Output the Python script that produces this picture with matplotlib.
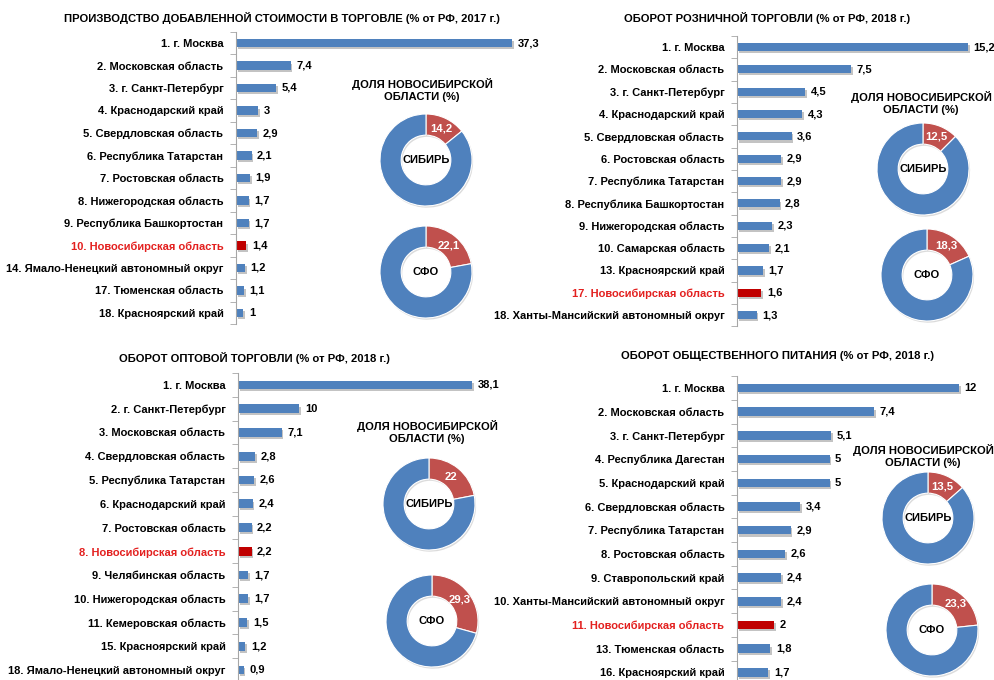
import numpy as np
import matplotlib
matplotlib.use("Agg")
import matplotlib.pyplot as plt
import matplotlib.patheffects as pe

plt.rcParams['font.family'] = ['Liberation Sans', 'DejaVu Sans']
plt.rcParams['font.weight'] = 'bold'

BLUE = "#4F81BD"
RED_WEDGE = "#C0504D"
RED_BAR = "#C00000"
RED_TEXT = "#E3201F"

# --- data ---
titles = [
    "ПРОИЗВОДСТВО ДОБАВЛЕННОЙ СТОИМОСТИ В ТОРГОВЛЕ (% от РФ, 2017 г.)",
    "ОБОРОТ РОЗНИЧНОЙ ТОРГОВЛИ (% от РФ, 2018 г.)",
    "ОБОРОТ ОПТОВОЙ ТОРГОВЛИ (% от РФ, 2018 г.)",
    "ОБОРОТ ОБЩЕСТВЕННОГО ПИТАНИЯ (% от РФ, 2018 г.)",
]

labels_vds = ["1. г. Москва", "2. Московская область", "3. г. Санкт-Петербург",
              "4. Краснодарский край", "5. Свердловская область", "6. Республика Татарстан",
              "7. Ростовская область", "8. Нижегородская область", "9. Республика Башкортостан",
              "10. Новосибирская область", "14. Ямало-Ненецкий автономный округ",
              "17. Тюменская область", "18. Красноярский край"]
values_vds = [37.3, 7.4, 5.4, 3, 2.9, 2.1, 1.9, 1.7, 1.7, 1.4, 1.2, 1.1, 1]

labels_retail = ["1. г. Москва", "2. Московская область", "3. г. Санкт-Петербург",
                 "4. Краснодарский край", "5. Свердловская область", "6. Ростовская область",
                 "7. Республика Татарстан", "8. Республика Башкортостан", "9. Нижегородская область",
                 "10. Самарская область", "13. Красноярский край", "17. Новосибирская область",
                 "18. Ханты-Мансийский автономный округ"]
values_retail = [15.2, 7.5, 4.5, 4.3, 3.6, 2.9, 2.9, 2.8, 2.3, 2.1, 1.7, 1.6, 1.3]

labels_whole = ["1. г. Москва", "2. г. Санкт-Петербург", "3. Московская область",
                "4. Свердловская область", "5. Республика Татарстан", "6. Краснодарский край",
                "7. Ростовская область", "8. Новосибирская область", "9. Челябинская область",
                "10. Нижегородская область", "11. Кемеровская область", "15. Красноярский край",
                "18. Ямало-Ненецкий автономный округ"]
values_whole = [38.1, 10, 7.1, 2.8, 2.6, 2.4, 2.2, 2.2, 1.7, 1.7, 1.5, 1.2, 0.9]

labels_food = ["1. г. Москва", "2. Московская область", "3. г. Санкт-Петербург",
               "4. Республика Дагестан", "5. Краснодарский край", "6. Свердловская область",
               "7. Республика Татарстан", "8. Ростовская область", "9. Ставропольский край",
               "10. Ханты-Мансийский автономный округ", "11. Новосибирская область",
               "13. Тюменская область", "16. Красноярский край"]
values_food = [12, 7.4, 5.1, 5, 5, 3.4, 2.9, 2.6, 2.4, 2.4, 2, 1.8, 1.7]

nso_index = [9, 11, 7, 10]
share_sib = [14.2, 12.5, 22, 13.5]
share_sfo = [22.1, 18.3, 29.3, 23.3]

all_labels = [labels_vds, labels_retail, labels_whole, labels_food]
all_values = [values_vds, values_retail, values_whole, values_food]

# layout in pixels (x0 of axis, first row y, row step, px per unit, title x, title y,
# donut title x, donut title y, sib centre, sfo centre)
layout = [
    (236, 43, 22.5, 7.4, 282, 18, 422, 90, (426, 160), (426, 272)),
    (737, 47, 22.35, 15.2, 767, 18, 921, 103, (923, 169), (927, 275)),
    (238, 385, 23.75, 6.14, 254, 358, 427, 432, (429, 504), (432, 621)),
    (737, 388, 23.7, 18.5, 778, 356, 923, 456, (928, 518), (932, 630)),
]

W, H = 995, 680
fig = plt.figure(figsize=(W / 100, H / 100), dpi=100)


def px_axes(x, y, w, h):
    return fig.add_axes([x / W, 1 - (y + h) / H, w / W, h / H])


def fmt(v):
    if v == int(v):
        return str(int(v))
    return f"{v:.1f}".replace(".", ",")


R = 46
for k in range(4):
    x0, y1, step, scale, tx, ty, dtx, dty, c_sib, c_sfo = layout[k]
    labels = all_labels[k]
    values = all_values[k]
    n = len(values)

    wpx = 300
    ax = px_axes(x0, y1 - step / 2, wpx, n * step)
    colors = [BLUE] * n
    colors[nso_index[k]] = RED_BAR
    bars = ax.barh(range(n), values, height=0.36, color=colors)
    for b in bars:
        b.set_path_effects([pe.SimplePatchShadow(offset=(1.2, -1.5), shadow_rgbFace="#888888", alpha=0.5),
                            pe.Normal()])
    ax.set_xlim(0, wpx / scale)
    ax.set_ylim(n - 0.5, -0.5)
    ax.set_yticks(range(n))
    ax.set_yticklabels(labels, fontsize=8.0, fontweight="bold")
    ax.get_yticklabels()[nso_index[k]].set_color(RED_TEXT)
    ax.set_yticks(np.arange(-0.5, n, 1), minor=True)
    ax.tick_params(axis="y", which="major", length=0, pad=9)
    ax.tick_params(axis="y", which="minor", length=4, color="#A6A6A6")
    ax.set_xticks([])
    for s in ["top", "right", "bottom"]:
        ax.spines[s].set_visible(False)
    ax.spines["left"].set_color("#A6A6A6")
    ax.patch.set_alpha(0)
    for i, v in enumerate(values):
        ax.annotate(fmt(v), (v, i), xytext=(4, 0), textcoords="offset points",
                    va="center", ha="left", fontsize=8.0, fontweight="bold")

    fig.text(tx / W, 1 - ty / H, titles[k], ha="center", va="center",
             fontsize=8.1, fontweight="bold")
    fig.text(dtx / W, 1 - dty / H, "ДОЛЯ НОВОСИБИРСКОЙ\nОБЛАСТИ (%)", ha="center",
             va="center", fontsize=8.1, fontweight="bold", linespacing=1.2)

    for centre, share, name in [(c_sib, share_sib[k], "СИБИРЬ"), (c_sfo, share_sfo[k], "СФО")]:
        size = 2 * R + 10
        dax = px_axes(centre[0] - size / 2, centre[1] - size / 2, size, size)
        wedges, _ = dax.pie([share, 100 - share], colors=[RED_WEDGE, BLUE], startangle=90,
                            counterclock=False, radius=1,
                            wedgeprops=dict(width=0.46, edgecolor="white", linewidth=0.8))
        for w in wedges:
            w.set_path_effects([pe.SimplePatchShadow(offset=(0.8, -1.2), shadow_rgbFace="#999999", alpha=0.35),
                                pe.Normal()])
        lim = size / (2 * R)
        dax.set_xlim(-lim, lim)
        dax.set_ylim(-lim, lim)
        dax.set_aspect("equal")
        mid = np.deg2rad(90 - share / 100 * 180)
        dax.text(0.76 * np.cos(mid), 0.76 * np.sin(mid), fmt(share), ha="center",
                 va="center", color="white", fontsize=8.2, fontweight="bold")
        dax.text(0, 0, name, ha="center", va="center", fontsize=8.0, fontweight="bold")

fig.savefig("out.png", dpi=100)
